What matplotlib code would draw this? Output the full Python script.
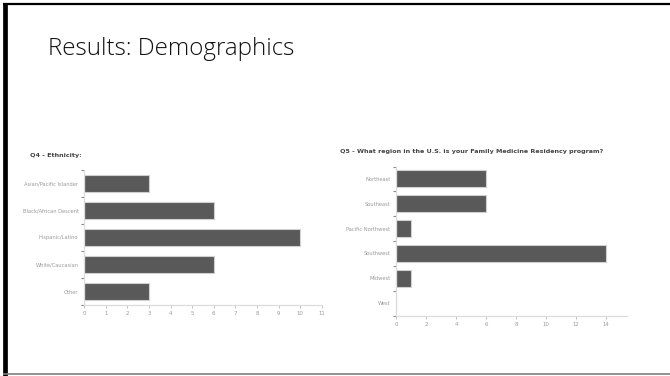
import matplotlib.pyplot as plt
import numpy as np
from matplotlib.lines import Line2D

# data
ethnicity = ["Asian/Pacific Islander", "Black/African Descent", "Hispanic/Latino",
             "White/Caucasian", "Other"]
ethnicity_counts = [3, 6, 10, 6, 3]
regions = ["Northeast", "Southeast", "Pacific Northwest", "Southwest", "Midwest", "West"]
region_counts = [6, 6, 1, 14, 1, 0]

bar_col = "#595959"
lab_col = "#9a9a9a"
spine_col = "#dcdcdc"
W, H = 670, 376

fig = plt.figure(figsize=(6.7, 3.76), dpi=100)
fig.patch.set_facecolor("white")

# slide frame: thick left, thin top, grey bottom
fig.lines.append(Line2D([5 / W, 5 / W], [0, 1 - 3 / H], transform=fig.transFigure,
                        color="black", linewidth=3.4, solid_capstyle="butt"))
fig.lines.append(Line2D([3 / W, 1], [1 - 4 / H, 1 - 4 / H], transform=fig.transFigure,
                        color="black", linewidth=1.6, solid_capstyle="butt"))
fig.lines.append(Line2D([3 / W, 1], [1 - 373.5 / H, 1 - 373.5 / H], transform=fig.transFigure,
                        color="#7f7f7f", linewidth=1.2, solid_capstyle="butt"))

fig.text(48 / W, 1 - 55 / H, "Results: Demographics", fontsize=17.4,
         family="Open Sans", fontweight="light", color="#111111", va="baseline", ha="left")


def bar_panel(ax, cats, vals, xmax, xticks, h):
    y = np.arange(len(cats))
    ax.barh(y, vals, height=h, color=bar_col, edgecolor="#d0d0d0", linewidth=0.8)
    ax.set_ylim(len(cats) - 0.5, -0.5)
    ax.set_xlim(0, xmax)
    ax.set_yticks(y)
    ax.set_yticklabels(cats)
    ax.set_yticks(np.arange(len(cats) + 1) - 0.5, minor=True)
    ax.set_xticks(xticks)
    ax.tick_params(axis="y", which="major", length=0, pad=4, labelsize=3.7, labelcolor=lab_col)
    ax.tick_params(axis="y", which="minor", length=2.5, width=0.8, color="#888888")
    ax.tick_params(axis="x", length=2.5, width=0.5, color="#aaaaaa", pad=2,
                   labelsize=3.9, labelcolor=lab_col)
    for s in ["top", "right"]:
        ax.spines[s].set_visible(False)
    for s in ["left", "bottom"]:
        ax.spines[s].set_color(spine_col)
        ax.spines[s].set_linewidth(0.9)


ax1 = fig.add_axes([84 / W, 1 - 305 / H, 238 / W, 135 / H])
bar_panel(ax1, ethnicity, ethnicity_counts, 11, range(0, 12), 0.6)

ax2 = fig.add_axes([396 / W, 1 - 315.5 / H, 231 / W, 149 / H])
bar_panel(ax2, regions, region_counts, 15.4, range(0, 15, 2), 0.68)

fig.text(30 / W, 1 - 155 / H, "Q4 - Ethnicity:", fontsize=4.6, fontweight="bold",
         color="#444444", va="center", ha="left")
fig.text(340 / W, 1 - 152 / H,
         "Q5 - What region in the U.S. is your Family Medicine Residency program?",
         fontsize=4.6, fontweight="bold", color="#444444", va="center", ha="left")

fig.savefig("out.png", dpi=100, facecolor="white")
